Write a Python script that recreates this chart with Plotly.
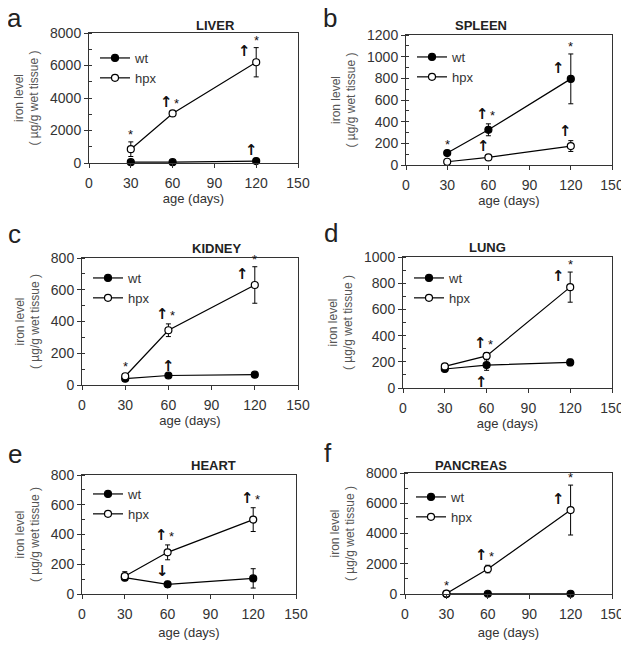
import plotly.graph_objects as go

ages = [30, 60, 120]

organs = ["LIVER", "SPLEEN", "KIDNEY", "LUNG", "HEART", "PANCREAS"]
letters = ["a", "b", "c", "d", "e", "f"]

liver_wt = [50, 50, 120]
liver_wt_err = [20, 20, 40]
liver_hpx = [850, 3050, 6200]
liver_hpx_err = [450, 100, 900]

spleen_wt = [110, 325, 795]
spleen_wt_err = [10, 55, 230]
spleen_hpx = [30, 70, 175]
spleen_hpx_err = [8, 10, 50]

kidney_wt = [40, 60, 65]
kidney_wt_err = [5, 6, 8]
kidney_hpx = [55, 345, 630]
kidney_hpx_err = [15, 40, 115]

lung_wt = [145, 175, 195]
lung_wt_err = [10, 40, 25]
lung_hpx = [165, 245, 770]
lung_hpx_err = [20, 25, 115]

heart_wt = [110, 65, 105]
heart_wt_err = [15, 20, 65]
heart_hpx = [120, 280, 500]
heart_hpx_err = [30, 50, 80]

pancreas_wt = [5, 15, 15]
pancreas_wt_err = [3, 5, 5]
pancreas_hpx = [30, 1650, 5550]
pancreas_hpx_err = [20, 250, 1650]

y_max = [8000, 1200, 800, 1000, 800, 8000]
y_dtick = [2000, 200, 200, 200, 200, 2000]

# significance marks: (series, age index, text, placement)
liver_marks = [("hpx", 0, "*", "top"), ("hpx", 1, "↑", "upleft"), ("hpx", 1, "*", "upright"),
               ("hpx", 2, "↑", "left"), ("hpx", 2, "*", "top"), ("wt", 2, "↑", "topleft")]
spleen_marks = [("wt", 0, "*", "top"), ("wt", 1, "↑", "upleft"), ("wt", 1, "*", "upright"),
                ("wt", 2, "↑", "left"), ("wt", 2, "*", "top"),
                ("hpx", 1, "↑", "topleft"), ("hpx", 2, "↑", "topleft")]
kidney_marks = [("hpx", 0, "*", "top"), ("hpx", 1, "↑", "upleft"), ("hpx", 1, "*", "upright"),
                ("hpx", 2, "↑", "left"), ("hpx", 2, "*", "top"), ("wt", 1, "↑", "top")]
lung_marks = [("hpx", 1, "↑", "upleft"), ("hpx", 1, "*", "upright"), ("wt", 1, "↑", "below"),
              ("hpx", 2, "↑", "left"), ("hpx", 2, "*", "top")]
heart_marks = [("wt", 1, "↓", "topleft"), ("hpx", 1, "↑", "upleft"), ("hpx", 1, "*", "upright"),
               ("hpx", 2, "↑", "upleft"), ("hpx", 2, "*", "upright")]
pancreas_marks = [("hpx", 0, "*", "top"), ("hpx", 1, "↑", "upleft"), ("hpx", 1, "*", "upright"),
                  ("hpx", 2, "↑", "left"), ("hpx", 2, "*", "top")]

wt_data = [liver_wt, spleen_wt, kidney_wt, lung_wt, heart_wt, pancreas_wt]
wt_errs = [liver_wt_err, spleen_wt_err, kidney_wt_err, lung_wt_err, heart_wt_err, pancreas_wt_err]
hpx_data = [liver_hpx, spleen_hpx, kidney_hpx, lung_hpx, heart_hpx, pancreas_hpx]
hpx_errs = [liver_hpx_err, spleen_hpx_err, kidney_hpx_err, lung_hpx_err, heart_hpx_err, pancreas_hpx_err]
all_marks = [liver_marks, spleen_marks, kidney_marks, lung_marks, heart_marks, pancreas_marks]

# page body has an 8px margin, so the figure is drawn 8px in from the corner
OFF = 8
W, H = 629 - OFF, 648 - 2 * OFF
# plot boxes in window pixels: left, right, top, bottom
boxes = [(89, 298, 33, 163), (406, 612, 35, 165),
         (82, 298, 258, 385), (403, 612, 257, 388),
         (82, 296, 475, 594), (405, 612, 473, 594)]
title_y = [25, 25, 248, 247, 465, 465]
letter_pos = [(14, 18), (330, 18), (14, 234), (331, 233), (15, 454), (328, 453)]
legend_top = [43, 42, 263, 263, 479, 482]
xtitle_standoff = [1, 1, 0, 0, 11, 11]


def px_x(p):
    return (p - OFF) / W


def px_y(p):
    return 1 - (p - OFF) / H


FONT = "Liberation Sans, Arial, sans-serif"
ARROW_FONT = "DejaVu Sans"
TXT = "#333333"

fig = go.Figure()
annotations = []

for i in range(6):
    n = "" if i == 0 else str(i + 1)
    xa, ya = "x" + n, "y" + n
    leg = "legend" + n
    for name, vals, errs, fill in [("wt", wt_data[i], wt_errs[i], "black"),
                                   ("hpx", hpx_data[i], hpx_errs[i], "white")]:
        fig.add_trace(go.Scatter(
            x=ages, y=vals, name=name, mode="lines+markers",
            xaxis=xa, yaxis=ya, legend=leg, cliponaxis=False,
            line=dict(color="black", width=1.2),
            marker=dict(symbol="circle", size=7, color=fill,
                        line=dict(color="black", width=1.2)),
            error_y=dict(type="data", array=errs, color="black", thickness=1, width=2.5),
        ))

    l, r, t, b = boxes[i]
    fig.layout["xaxis" + n] = dict(
        domain=[px_x(l), px_x(r)], anchor=ya, range=[0, 150], tickvals=[0, 30, 60, 90, 120, 150],
        ticks="outside", ticklen=4, tickcolor="#333", showline=True, mirror=True,
        linecolor="#333", linewidth=1, showgrid=False, zeroline=False,
        tickfont=dict(size=14, color=TXT, family=FONT), ticklabelstandoff=3,
        title=dict(text="age (days)", standoff=xtitle_standoff[i],
                   font=dict(size=13, color=TXT, family=FONT)),
        automargin=False, fixedrange=True,
    )
    fig.layout["yaxis" + n] = dict(
        domain=[px_y(b), px_y(t)], anchor=xa, range=[0, y_max[i]], dtick=y_dtick[i],
        ticks="outside", ticklen=4, tickcolor="#333", showline=True, mirror=True,
        linecolor="#333", linewidth=1, showgrid=False, zeroline=False,
        minor=dict(dtick=y_dtick[i] / 2, ticks="inside", ticklen=3, tickcolor="#333"),
        tickfont=dict(size=14, color=TXT, family=FONT),
        title=dict(text="iron level<br>( µg/g wet tissue )", standoff=8,
                   font=dict(size=12, color="#555555", family=FONT)),
        automargin=False, fixedrange=True,
    )
    fig.layout[leg] = dict(
        x=px_x(l + 6), y=px_y(legend_top[i]), xanchor="left", yanchor="top",
        bgcolor="rgba(0,0,0,0)", font=dict(size=13, color=TXT, family=FONT),
        itemwidth=30, tracegroupgap=0,
    )

    annotations.append(dict(
        text="<b>" + organs[i] + "</b>", xref="paper", yref="paper",
        x=px_x((l + r) / 2), y=px_y(title_y[i]), showarrow=False,
        font=dict(size=13, color="#222", family=FONT), yanchor="middle",
    ))
    lx, ly = letter_pos[i]
    annotations.append(dict(
        text=letters[i], xref="paper", yref="paper", x=px_x(lx), y=px_y(ly),
        showarrow=False, font=dict(size=26, color="#222", family=FONT),
        xanchor="center", yanchor="middle",
    ))

    for series, k, txt, place in all_marks[i]:
        vals = wt_data[i] if series == "wt" else hpx_data[i]
        errs = wt_errs[i] if series == "wt" else hpx_errs[i]
        is_arrow = txt in ("↑", "↓")
        a = dict(text="<b>" + txt + "</b>" if is_arrow else txt,
                 xref=xa, yref=ya, x=ages[k], showarrow=False,
                 font=dict(size=15 if is_arrow else 13, color="#111",
                           family=ARROW_FONT if is_arrow else FONT))
        top = vals[k] + errs[k]
        if place == "top":
            a.update(y=top, yanchor="bottom", yshift=-2)
        elif place == "topleft":
            a.update(y=top, yanchor="bottom", yshift=-1, xshift=-5)
        elif place == "upleft":
            a.update(y=top, yanchor="bottom", yshift=-1, xshift=-6)
        elif place == "upright":
            a.update(y=top, yanchor="bottom", yshift=-1, xshift=4)
        elif place == "left":
            a.update(y=vals[k], yanchor="bottom", xshift=-12, yshift=0)
        else:
            a.update(y=vals[k] - errs[k], yanchor="top", xshift=-5, yshift=-1)
        annotations.append(a)

fig.update_layout(
    width=W, height=H, margin=dict(l=0, r=0, t=0, b=0),
    paper_bgcolor="white", plot_bgcolor="white",
    annotations=annotations, font=dict(family=FONT),
)

fig.write_html("out.html")
